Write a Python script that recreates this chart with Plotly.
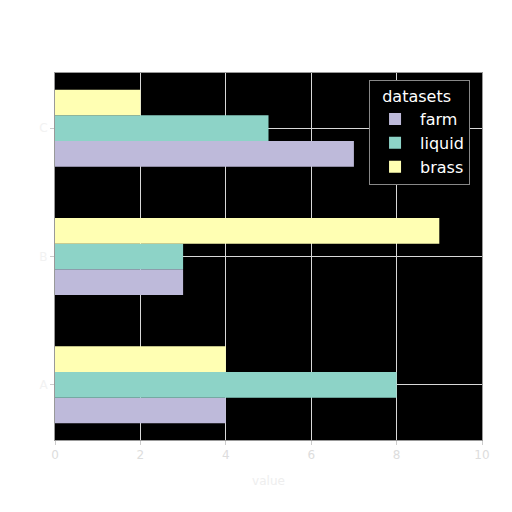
import plotly.graph_objects as go

categories = ["A", "B", "C"]
series_names = ["farm", "liquid", "brass"]
farm = [4, 3, 7]
liquid = [8, 3, 5]
brass = [4, 9, 2]
x_ticks = [0, 2, 4, 6, 8, 10]

colors = {"farm": "#bebada", "liquid": "#8dd3c7", "brass": "#ffffb3"}
values = {"farm": farm, "liquid": liquid, "brass": brass}

fig = go.Figure()
for name in series_names:
    fig.add_trace(go.Bar(
        y=categories, x=values[name], name=name, orientation="h",
        marker=dict(color=colors[name], line=dict(width=0)),
    ))

# page body has an 8px margin, so offsets are shifted a bit
fig.update_layout(
    width=512, height=512,
    margin=dict(l=47, r=38, t=65, b=80),
    paper_bgcolor="white", plot_bgcolor="black",
    barmode="group", bargap=0.4, bargroupgap=0,
    font=dict(family="DejaVu Sans", color="#e8e8e8", size=12),
    legend=dict(
        title=dict(text="  datasets", font=dict(color="white", size=16)),
        font=dict(color="white", size=16),
        bgcolor="black", bordercolor="#888888", borderwidth=1,
        x=0.972, xanchor="right", y=0.98, yanchor="top",
        traceorder="normal", itemwidth=40,
    ),
    showlegend=True,
)
fig.update_xaxes(
    range=[0, 10], tickvals=x_ticks, showgrid=True, gridcolor="#d8d8d8",
    gridwidth=1, layer="above traces", showline=True, linecolor="#999999",
    mirror=True, ticks="outside", tickcolor="#cccccc", ticklen=4,
    tickfont=dict(color="#dddddd", size=12), zeroline=False,
    title=dict(text="value", font=dict(color="#eeeeee", size=12)),
)
fig.update_yaxes(
    range=[-0.43, 2.43], showgrid=True, gridcolor="#d8d8d8", gridwidth=1,
    layer="above traces", showline=True, linecolor="#999999", mirror=True,
    ticks="outside", tickcolor="#cccccc", ticklen=4,
    tickfont=dict(color="#f2f2f2", size=12),
)

fig.write_html("out.html")
